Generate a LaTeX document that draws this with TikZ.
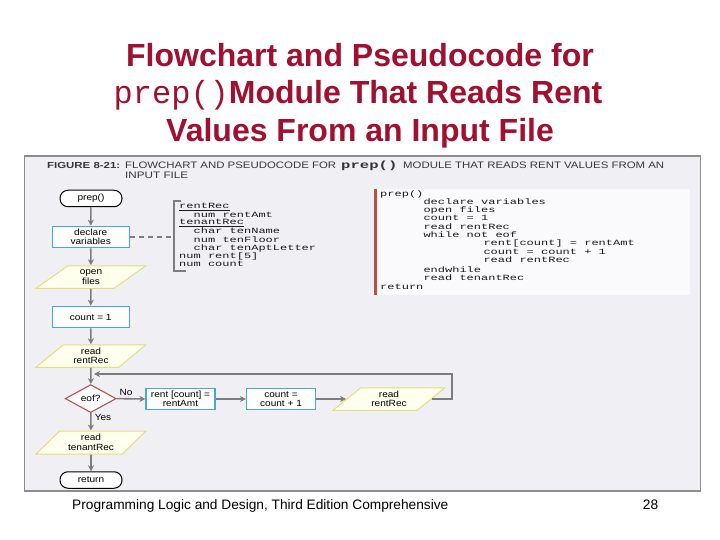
\documentclass[tikz,border=0pt]{standalone}
\usepackage{fontspec}
\usepackage{graphicx}
\setmainfont{Liberation Sans}
\newfontfamily\titlemono{Liberation Mono}
\newfontfamily\codefont[FakeStretch=1.5]{Liberation Mono}
\newfontfamily\flowfont[FakeStretch=1.12]{Liberation Sans}
\usetikzlibrary{shapes.geometric,arrows.meta}
\definecolor{titlered}{RGB}{160,16,48}
\definecolor{panelbg}{RGB}{240,240,244}
\definecolor{panelborder}{RGB}{140,140,140}
\definecolor{codebg}{RGB}{250,250,252}
\definecolor{codebar}{RGB}{190,80,64}
\definecolor{procborder}{RGB}{70,170,200}
\definecolor{ioborder}{RGB}{230,220,130}
\definecolor{iofill}{RGB}{255,255,238}
\definecolor{decborder}{RGB}{180,85,75}
\definecolor{arrowgray}{RGB}{125,125,125}
\definecolor{codetext}{RGB}{25,25,25}
\definecolor{captext}{RGB}{55,55,55}
\tikzset{
  flowtxt/.style={font=\flowfont\fontsize{9}{9.5}\selectfont, text=black},
  terminal/.style={flowtxt, draw=black, line width=1pt, fill=white, rounded corners=8pt, minimum width=62pt, minimum height=16.5pt, inner sep=0pt},
  proc/.style={flowtxt, draw=procborder, line width=1.2pt, fill=white, minimum width=77pt, minimum height=21.5pt, inner sep=0pt, align=center},
  smallproc/.style={proc, minimum width=69pt},
  io/.style={flowtxt, trapezium, trapezium left angle=43, trapezium right angle=137, trapezium stretches=true, draw=ioborder, line width=1pt, fill=iofill, minimum width=110pt, minimum height=22.5pt, inner sep=0pt, align=center},
  dec/.style={flowtxt, diamond, draw=decborder, line width=1.1pt, fill=white, minimum width=51pt, minimum height=28pt, inner sep=0pt},
  flowarrow/.style={draw=arrowgray, line width=1.6pt, -{Stealth[length=6pt,width=6pt]}},
  codeline/.style={anchor=west, inner sep=0pt, font=\codefont\fontsize{8}{8}\selectfont, text=codetext},
  captxt/.style={anchor=base west, inner sep=0pt, text=captext, font=\fontsize{9.4}{9.4}\selectfont},
  lbl/.style={flowtxt, inner sep=0pt},
}
\begin{document}
\begin{tikzpicture}[x=1pt,y=-1pt]
\useasboundingbox (0,0) rectangle (720,540);
\fill[white] (0,0) rectangle (720,540);
% title
\node[anchor=base, inner sep=0pt, text=titlered, font=\bfseries\fontsize{32}{32}\selectfont] (t1) at (360,66.7) {Flowchart and Pseudocode for};
\node[anchor=base, inner sep=0pt, text=titlered, font=\bfseries\fontsize{32}{32}\selectfont] (t2) at (358,104) {{\titlemono\mdseries prep()}Module That Reads Rent};
\node[anchor=base, inner sep=0pt, text=titlered, font=\bfseries\fontsize{32}{32}\selectfont] (t3) at (360,141.7) {Values From an Input File};
% panel
\draw[panelborder, line width=1.4pt, fill=panelbg] (24.5,156) rectangle (700.5,491);
% caption
\node[captxt, font=\bfseries\fontsize{8.8}{8.8}\selectfont] (figlbl) at (47,169) {\resizebox{73pt}{\height}{FIGURE 8-21:}};
\node[captxt] (capA) at (125,169) {\resizebox{211pt}{\height}{FLOWCHART AND PSEUDOCODE FOR}};
\node[captxt, font=\codefont\bfseries\fontsize{10.4}{10.4}\selectfont] (capP) at (341,169) {prep()};
\node[captxt] (capB) at (403,169) {\resizebox{261pt}{\height}{MODULE THAT READS RENT VALUES FROM AN}};
\node[captxt] (cap2) at (125,179) {\resizebox{63pt}{\height}{INPUT FILE}};
% pseudocode box
\fill[codebg] (373.5,189) rectangle (690,295);
\fill[codebar] (373.5,189) rectangle (376.5,295);
\node[codeline] (p1) at (380,194) {prep()};
\node[codeline] (p2) at (423.3,201.7) {declare variables};
\node[codeline] (p3) at (423.3,210) {open files};
\node[codeline] (p4) at (423.3,218.3) {count = 1};
\node[codeline] (p5) at (423.3,226.7) {read rentRec};
\node[codeline] (p6) at (423.3,235) {while not eof};
\node[codeline] (p7) at (483.3,243.3) {rent[count] = rentAmt};
\node[codeline] (p8) at (483.3,251.7) {count = count + 1};
\node[codeline] (p9) at (483.3,260) {read rentRec};
\node[codeline] (p10) at (423.3,269.3) {endwhile};
\node[codeline] (p11) at (423.3,277.7) {read tenantRec};
\node[codeline] (p12) at (380,286.7) {return};
% declarations bracket
\draw[arrowgray, line width=1.3pt] (181,201) -- (174,201) -- (174,271) -- (186,271);
\node[codeline] (d1) at (179,207) {\underline{rentRec}};
\node[codeline] (d2) at (193.5,214.5) {num rentAmt};
\node[codeline] (d3) at (179,223) {\underline{tenantRec}};
\node[codeline] (d4) at (193.5,231) {char tenName};
\node[codeline] (d5) at (193.5,239.5) {num tenFloor};
\node[codeline] (d6) at (193.5,248) {char tenAptLetter};
\node[codeline] (d7) at (179,256) {num rent[5]};
\node[codeline] (d8) at (179,264) {num count};
\coordinate (brk) at (174,237);
% flowchart
\node[terminal] (prep) at (91,198.5) {prep()};
\node[proc] (decl) at (90.7,237) {declare\\variables};
\node[io] (open) at (91,277) {open\\files};
\node[proc] (cnt1) at (90.7,317) {count = 1};
\node[io] (read1) at (91,356) {read\\rentRec};
\node[dec] (eof) at (90.7,398.6) {eof?};
\node[smallproc] (rentbox) at (180.5,399) {rent [count] =\\rentAmt};
\node[smallproc] (cntbox) at (281,399) {count =\\count + 1};
\node[io, minimum width=112pt] (read2) at (389,399) {read\\rentRec};
\node[io, minimum height=23pt] (readT) at (91,442.5) {read\\tenantRec};
\node[terminal] (ret) at (91,480) {return};
\coordinate (loopR) at (452,374);
\coordinate (loopEnd) at (94,374);
\draw[arrowgray, line width=1.2pt, dash pattern=on 5pt off 4pt] (decl.east) -- (brk);
\draw[flowarrow] (prep) -- (decl);
\draw[flowarrow] (decl) -- (open);
\draw[flowarrow] (open) -- (cnt1);
\draw[flowarrow] (cnt1) -- (read1);
\draw[flowarrow] (read1) -- (eof);
\draw[flowarrow] (eof) -- (readT);
\draw[flowarrow] (readT) -- (ret);
\draw[flowarrow] (eof.east) -- (rentbox.west);
\draw[flowarrow] (rentbox) -- (cntbox);
\draw[flowarrow] (cntbox) -- (read2);
\draw[flowarrow] (read2.east) -| (loopR) -- (loopEnd);
\node[lbl] (nolbl) at (126,392) {No};
\node[lbl] (yeslbl) at (103,417) {Yes};
% footer
\node[anchor=base west, inner sep=0pt, font=\fontsize{13.7}{13.7}\selectfont] (foot) at (72,509.5) {Programming Logic and Design, Third Edition Comprehensive};
\node[anchor=base, inner sep=0pt, font=\fontsize{13.7}{13.7}\selectfont] (pg) at (650.5,509.5) {28};
\end{tikzpicture}
\end{document}
